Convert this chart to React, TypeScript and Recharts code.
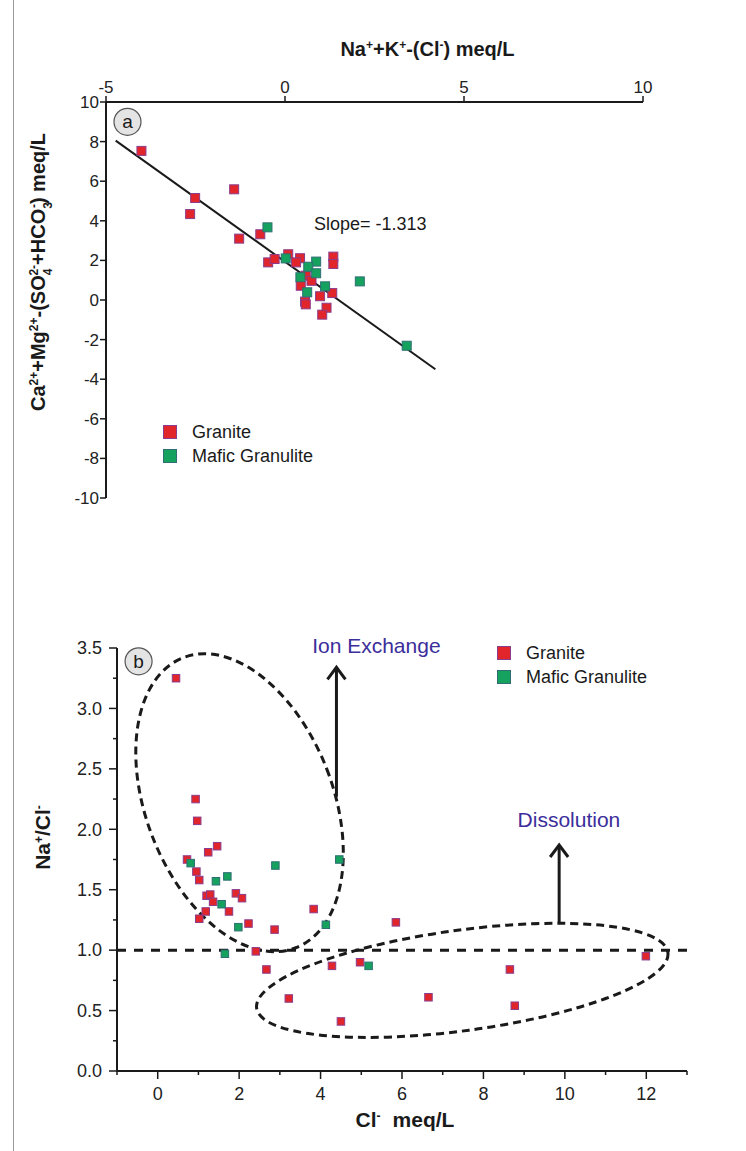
import React from "react";
import { ScatterChart, Scatter, XAxis, YAxis, ReferenceLine, ReferenceDot } from "recharts";

const FONT = "'Liberation Sans', Arial, Helvetica, sans-serif";
const INK = "#1a1a1a";
const TICK_TEXT = "#222";
const RED = "#e2252b";
const RED_EDGE = "#8a3d8c";
const GREEN = "#15a25e";
const GREEN_EDGE = "#2f6e74";
const NOTE = "#3b2e9b";

type Pt = { x: number; y: number };

// ---- panel (a): Na+K-Cl vs Ca+Mg-(SO4+HCO3), meq/L ----
const graniteA: Pt[] = [
  { x: -4.01, y: 7.53 }, { x: -2.51, y: 5.15 }, { x: -2.65, y: 4.34 }, { x: -1.42, y: 5.59 },
  { x: -1.28, y: 3.1 }, { x: -0.69, y: 3.32 }, { x: -0.47, y: 1.9 }, { x: -0.29, y: 2.07 },
  { x: 0.09, y: 2.31 }, { x: 0.42, y: 2.11 }, { x: 0.31, y: 1.9 }, { x: 1.35, y: 2.19 },
  { x: 1.35, y: 1.82 }, { x: 0.58, y: 1.23 }, { x: 0.44, y: 0.72 }, { x: 0.74, y: 0.97 },
  { x: 0.98, y: 0.19 }, { x: 1.32, y: 0.35 }, { x: 0.56, y: -0.08 }, { x: 0.58, y: -0.22 },
  { x: 1.16, y: -0.39 }, { x: 1.04, y: -0.74 },
];
const maficA: Pt[] = [
  { x: -0.49, y: 3.67 }, { x: 0.02, y: 2.1 }, { x: 0.87, y: 1.94 }, { x: 0.65, y: 1.68 },
  { x: 0.87, y: 1.35 }, { x: 0.43, y: 1.15 }, { x: 1.12, y: 0.69 }, { x: 2.09, y: 0.94 },
  { x: 0.62, y: 0.39 }, { x: 3.4, y: -2.31 },
];
const fitA: Pt[] = [{ x: -4.73, y: 8.05 }, { x: 4.2, y: -3.5 }];
const slopeText = "Slope= -1.313";
const ticksAX = [-5, 0, 5, 10];
const ticksAY = [-10, -8, -6, -4, -2, 0, 2, 4, 6, 8, 10];

// ---- panel (b): Cl vs Na/Cl ----
const graniteB: Pt[] = [
  { x: 0.45, y: 3.25 }, { x: 0.93, y: 2.25 }, { x: 0.97, y: 2.07 }, { x: 1.46, y: 1.86 },
  { x: 1.24, y: 1.81 }, { x: 0.72, y: 1.75 }, { x: 0.95, y: 1.65 }, { x: 1.02, y: 1.58 },
  { x: 1.2, y: 1.45 }, { x: 1.29, y: 1.46 }, { x: 1.92, y: 1.47 }, { x: 2.07, y: 1.43 },
  { x: 1.36, y: 1.4 }, { x: 1.18, y: 1.32 }, { x: 1.75, y: 1.32 }, { x: 1.02, y: 1.26 },
  { x: 3.83, y: 1.34 }, { x: 2.23, y: 1.22 }, { x: 2.87, y: 1.17 }, { x: 5.85, y: 1.23 },
  { x: 2.41, y: 0.99 }, { x: 2.67, y: 0.84 }, { x: 4.28, y: 0.87 }, { x: 4.97, y: 0.9 },
  { x: 3.22, y: 0.6 }, { x: 6.65, y: 0.61 }, { x: 4.5, y: 0.41 }, { x: 11.99, y: 0.95 },
  { x: 8.65, y: 0.84 }, { x: 8.77, y: 0.54 },
];
const maficB: Pt[] = [
  { x: 0.81, y: 1.72 }, { x: 2.89, y: 1.7 }, { x: 4.46, y: 1.75 }, { x: 1.43, y: 1.57 },
  { x: 1.71, y: 1.61 }, { x: 1.57, y: 1.38 }, { x: 1.98, y: 1.19 }, { x: 4.13, y: 1.21 },
  { x: 1.65, y: 0.97 }, { x: 5.18, y: 0.87 },
];
const ticksBX = [-1, 0, 1, 2, 3, 4, 5, 6, 7, 8, 9, 10, 11, 12, 13];
const ticksBY = [0, 0.25, 0.5, 0.75, 1, 1.25, 1.5, 1.75, 2, 2.25, 2.5, 2.75, 3, 3.25, 3.5];

// annotation anchors in data units (panel b)
const ionEllipse = { x: 2.01, y: 2.22 };
const dissEllipse = { x: 7.48, y: 0.75 };
const ionArrow: Pt[] = [{ x: 4.39, y: 2.27 }, { x: 4.39, y: 3.34 }];
const dissArrow: Pt[] = [{ x: 9.86, y: 1.23 }, { x: 9.86, y: 1.87 }];
const ionLabel = { x: 5.37, y: 3.52, text: "Ion Exchange" };
const dissLabel = { x: 10.1, y: 2.08, text: "Dissolution" };

const legendItems = [
  { name: "Granite", fill: RED, edge: RED_EDGE },
  { name: "Mafic Granulite", fill: GREEN, edge: GREEN_EDGE },
];

const square = (size: number, fill: string, edge: string) => (p: any) => {
  if (p.cx == null || p.cy == null) return <g />;
  return (
    <rect x={p.cx - size / 2} y={p.cy - size / 2} width={size} height={size}
      fill={fill} stroke={edge} strokeWidth={1} />
  );
};

const ellipseShape = (rx: number, ry: number, angle: number) => (p: any) => (
  <ellipse cx={p.cx} cy={p.cy} rx={rx} ry={ry} fill="none" stroke={INK}
    strokeWidth={3} strokeDasharray="8 5" transform={`rotate(${angle} ${p.cx} ${p.cy})`} />
);

const arrowHead = (p: any) => (
  <polyline points={`${p.cx - 9},${p.cy + 12} ${p.cx},${p.cy} ${p.cx + 9},${p.cy + 12}`}
    fill="none" stroke={INK} strokeWidth={3} />
);

const noteText = (text: string, size: number, color: string, anchor: "start" | "middle") => (p: any) => (
  <text x={p.cx} y={p.cy} dy="0.35em" textAnchor={anchor} fontSize={size}
    fontFamily={FONT} fill={color}>{text}</text>
);

const panelBadge = (letter: string) => (p: any) => (
  <g>
    <circle cx={p.cx} cy={p.cy} r={13.5} fill="#e4e4e4" stroke="#555" strokeWidth={1.2} />
    <text x={p.cx} y={p.cy} dy="0.35em" textAnchor="middle" fontSize={19}
      fontFamily={FONT} fill={INK}>{letter}</text>
  </g>
);

// ---- ticks ----
function TickATop(props: any) {
  const { x, y, payload } = props;
  return (
    <g>
      <line x1={x} x2={x} y1={y} y2={y - 6} stroke={INK} strokeWidth={1.5} />
      <text x={x} y={y - 9} textAnchor="middle" fontSize={17} fontFamily={FONT} fill={TICK_TEXT}>
        {payload.value}
      </text>
    </g>
  );
}

function TickALeft(props: any) {
  const { x, y, payload } = props;
  return (
    <g>
      <line x1={x - 6} x2={x} y1={y} y2={y} stroke={INK} strokeWidth={1.5} />
      <text x={x - 7} y={y} dy="0.35em" textAnchor="end" fontSize={17} fontFamily={FONT} fill={TICK_TEXT}>
        {payload.value}
      </text>
    </g>
  );
}

function TickBBottom(props: any) {
  const { x, y, payload } = props;
  const major = payload.value % 2 === 0;
  return (
    <g>
      <line x1={x} x2={x} y1={y} y2={y + (major ? 8 : 4)} stroke={INK} strokeWidth={1.5} />
      {major && (
        <text x={x} y={y + 29} textAnchor="middle" fontSize={18} fontFamily={FONT} fill={TICK_TEXT}>
          {payload.value}
        </text>
      )}
    </g>
  );
}

function TickBLeft(props: any) {
  const { x, y, payload } = props;
  const major = Math.abs((payload.value * 2) % 1) < 1e-6;
  return (
    <g>
      <line x1={x - (major ? 8 : 4)} x2={x} y1={y} y2={y} stroke={INK} strokeWidth={1.5} />
      {major && (
        <text x={x - 15} y={y} dy="0.35em" textAnchor="end" fontSize={18} fontFamily={FONT} fill={TICK_TEXT}>
          {payload.value.toFixed(1)}
        </text>
      )}
    </g>
  );
}

const sup = (s: string, size = 12) => (
  <tspan baselineShift="super" fontSize={size}>{s}</tspan>
);

function TitleAX(props: any) {
  const vb = props.viewBox;
  return (
    <text x={vb.x + vb.width / 2 + 53} y={vb.y - 6} textAnchor="middle" fontSize={20}
      fontWeight="bold" fontFamily={FONT} fill={INK}>
      Na{sup("+")}+K{sup("+")}-(Cl{sup("-")}) meq/L
    </text>
  );
}

function TitleAY(props: any) {
  const vb = props.viewBox;
  const cx = vb.x - 11;
  const cy = vb.y + vb.height / 2 - 28;
  return (
    <text x={cx} y={cy} transform={`rotate(-90 ${cx} ${cy})`} textAnchor="middle" fontSize={20}
      fontWeight="bold" fontFamily={FONT} fill={INK}>
      Ca{sup("2+")}+Mg{sup("2+")}-(SO
      <tspan baselineShift="sub" fontSize={12}>4</tspan>
      <tspan dx={-7} baselineShift="super" fontSize={12}>2-</tspan>
      +HCO
      <tspan baselineShift="sub" fontSize={12}>3</tspan>
      <tspan dx={-6} baselineShift="super" fontSize={12}>-</tspan>) meq/L
    </text>
  );
}

function TitleBX(props: any) {
  const vb = props.viewBox;
  return (
    <text x={vb.x + vb.width / 2 + 3} y={vb.y + 56} textAnchor="middle" fontSize={21}
      fontWeight="bold" fontFamily={FONT} fill={INK}>
      Cl{sup("-")}<tspan dx={12}>meq/L</tspan>
    </text>
  );
}

function TitleBY(props: any) {
  const vb = props.viewBox;
  const cx = vb.x - 7;
  const cy = vb.y + vb.height / 2 - 22;
  return (
    <text x={cx} y={cy} transform={`rotate(-90 ${cx} ${cy})`} textAnchor="middle" fontSize={21}
      fontWeight="bold" fontFamily={FONT} fill={INK}>
      Na{sup("+")}/Cl{sup("-")}
    </text>
  );
}

function LegendBox({ left, top }: { left: number; top: number }) {
  return (
    <div style={{ position: "absolute", left, top, fontFamily: FONT, fontSize: 18, color: INK }}>
      {legendItems.map((it) => (
        <div key={it.name} style={{ display: "flex", alignItems: "center", height: 24 }}>
          <span style={{
            display: "inline-block", width: 12, height: 12, background: it.fill,
            border: `1px solid ${it.edge}`, marginRight: 15,
          }} />
          {it.name}
        </div>
      ))}
    </div>
  );
}

export default function App() {
  return (
    <div style={{ position: "absolute", left: 0, top: 0, width: 746, height: 1151, background: "#fff", overflow: "hidden" }}>
      <div style={{ position: "absolute", left: 13, top: 0, width: 1, height: 1151, background: "#9a9a9a" }} />

      <div style={{ position: "absolute", left: 0, top: 0 }}>
        <ScatterChart width={746} height={540} margin={{ top: 62, right: 103, bottom: 42, left: 56 }}>
          <XAxis type="number" dataKey="x" orientation="top" height={40} domain={[-5, 10]}
            ticks={ticksAX} interval={0} tickSize={0} tickMargin={0} tickLine={false}
            axisLine={{ stroke: INK, strokeWidth: 2 }} tick={<TickATop />} allowDataOverflow
            label={{ content: <TitleAX /> }} />
          <YAxis type="number" dataKey="y" width={50} domain={[-10, 10]}
            ticks={ticksAY} interval={0} tickSize={0} tickMargin={0} tickLine={false}
            axisLine={{ stroke: INK, strokeWidth: 2 }} tick={<TickALeft />} allowDataOverflow
            label={{ content: <TitleAY /> }} />
          <ReferenceLine segment={fitA} stroke={INK} strokeWidth={2} />
          <Scatter data={graniteA} shape={square(9, RED, RED_EDGE)} isAnimationActive={false} />
          <Scatter data={maficA} shape={square(9, GREEN, GREEN_EDGE)} isAnimationActive={false} />
          <ReferenceDot x={0.81} y={3.84} r={0} ifOverflow="visible" shape={noteText(slopeText, 18, INK, "start")} />
          <ReferenceDot x={-4.4} y={9.0} r={0} ifOverflow="visible" shape={panelBadge("a")} />
        </ScatterChart>
        <LegendBox left={163} top={420} />
      </div>

      <div style={{ position: "absolute", left: 0, top: 600 }}>
        <ScatterChart width={746} height={551} margin={{ top: 48, right: 59, bottom: 20, left: 57 }}>
          <XAxis type="number" dataKey="x" height={60} domain={[-1, 13]}
            ticks={ticksBX} interval={0} tickSize={0} tickMargin={0} tickLine={false}
            axisLine={{ stroke: INK, strokeWidth: 2 }} tick={<TickBBottom />} allowDataOverflow
            label={{ content: <TitleBX /> }} />
          <YAxis type="number" dataKey="y" width={60} domain={[0, 3.5]}
            ticks={ticksBY} interval={0} tickSize={0} tickMargin={0} tickLine={false}
            axisLine={{ stroke: INK, strokeWidth: 2 }} tick={<TickBLeft />} allowDataOverflow
            label={{ content: <TitleBY /> }} />
          <ReferenceLine y={1} stroke={INK} strokeWidth={3} strokeDasharray="9 8" />
          <ReferenceDot x={ionEllipse.x} y={ionEllipse.y} r={0} ifOverflow="visible" shape={ellipseShape(93.5, 155.6, -21.2)} />
          <ReferenceDot x={dissEllipse.x} y={dissEllipse.y} r={0} ifOverflow="visible" shape={ellipseShape(207.5, 50.3, -7.7)} />
          <ReferenceLine segment={ionArrow} stroke={INK} strokeWidth={3} />
          <ReferenceLine segment={dissArrow} stroke={INK} strokeWidth={3} />
          <ReferenceDot x={ionArrow[1].x} y={ionArrow[1].y} r={0} ifOverflow="visible" shape={arrowHead} />
          <ReferenceDot x={dissArrow[1].x} y={dissArrow[1].y} r={0} ifOverflow="visible" shape={arrowHead} />
          <Scatter data={graniteB} shape={square(7.5, RED, RED_EDGE)} isAnimationActive={false} />
          <Scatter data={maficB} shape={square(7.5, GREEN, GREEN_EDGE)} isAnimationActive={false} />
          <ReferenceDot x={ionLabel.x} y={ionLabel.y} r={0} ifOverflow="visible" shape={noteText(ionLabel.text, 21, NOTE, "middle")} />
          <ReferenceDot x={dissLabel.x} y={dissLabel.y} r={0} ifOverflow="visible" shape={noteText(dissLabel.text, 21, NOTE, "middle")} />
          <ReferenceDot x={-0.47} y={3.39} r={0} ifOverflow="visible" shape={panelBadge("b")} />
        </ScatterChart>
        <LegendBox left={497} top={41} />
      </div>
    </div>
  );
}
